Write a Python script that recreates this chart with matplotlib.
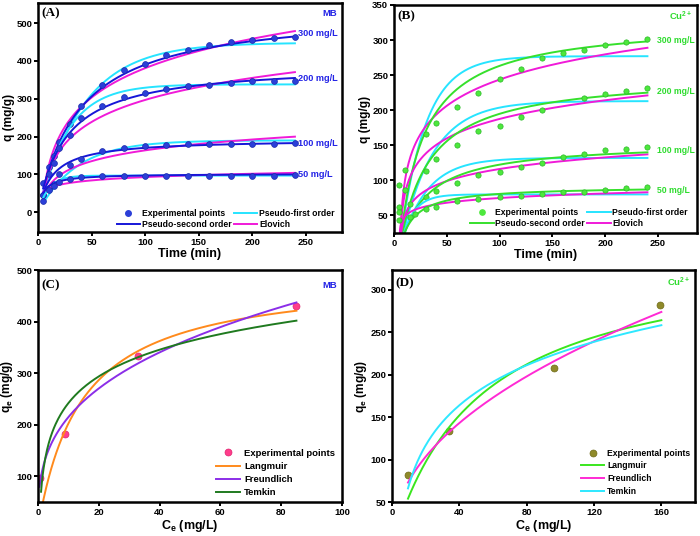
import numpy as np
import matplotlib

matplotlib.use("Agg")

import matplotlib.pyplot as plt  # noqa: E402

plt.rcParams["font.family"] = ["Liberation Sans", "DejaVu Sans"]
plt.rcParams["font.weight"] = "bold"
plt.rcParams["axes.labelweight"] = "bold"
plt.rcParams["mathtext.fontset"] = "custom"
plt.rcParams["mathtext.rm"] = "Liberation Sans:bold"
plt.rcParams["mathtext.bf"] = "Liberation Sans:bold"
plt.rcParams["mathtext.default"] = "bf"

# ---- (A) MB kinetics -------------------------------------------------
conc_labels = ["300 mg/L", "200 mg/L", "100 mg/L", "50 mg/L"]
mb_t = [5, 10, 15, 20, 30, 40, 60, 80, 100, 120, 140, 160, 180, 200, 220, 240]
mb_q = [
    [77, 120, 150, 185, 233, 282, 337, 375, 393, 415, 429, 442, 451, 455, 460, 464],
    [45, 100, 130, 170, 203, 250, 281, 305, 316, 326, 334, 337, 342, 346, 347, 348],
    [45, 65, 75, 100, 125, 140, 162, 170, 175, 178, 180, 180, 180, 181, 181, 182],
    [30, 60, 70, 80, 88, 92, 95, 96, 96, 96, 96, 97, 97, 97, 97, 98],
]
# fitted parameters (one entry per concentration)
mb_pfo_qe = [448, 338, 190, 97]
mb_pfo_k1 = [0.0237, 0.0365, 0.028, 0.104]
mb_pso_qe = [538, 393, 193, 102]
mb_pso_k2 = [4.9e-5, 9.87e-5, 3.89e-4, 2.0e-3]
mb_elo_a = [-135, -90, -26.5, 34.6]
mb_elo_b = [112, 84, 41.3, 12.7]
mb_label_q = [473, 353, 183, 101]

# ---- (B) Cu kinetics -------------------------------------------------
cu_t = [
    [5, 10, 30, 40, 60, 80, 100, 120, 140, 160, 180, 200, 220, 240],
    [5, 10, 30, 40, 60, 80, 100, 120, 140, 180, 200, 220, 240],
    [5, 15, 30, 40, 60, 80, 100, 120, 140, 160, 180, 200, 220, 240],
    [5, 15, 20, 30, 40, 60, 80, 100, 120, 140, 160, 180, 200, 220, 240],
]
cu_q = [
    [93, 115, 166, 182, 205, 225, 244, 259, 274, 281, 286, 293, 297, 301],
    [62, 86, 114, 130, 151, 170, 178, 190, 201, 217, 223, 228, 232],
    [55, 66, 77, 85, 96, 107, 112, 119, 125, 134, 138, 143, 145, 148],
    [44, 48, 52, 59, 62, 70, 73, 76, 78, 80, 83, 84, 86, 89, 91],
]
cu_t0 = 5.0
cu_pfo_qe = [277, 213, 132, 80]
cu_pfo_k1 = [0.0419, 0.033, 0.04, 0.085]
cu_pso_qe = [327.4, 251.4, 155, 91.8]
cu_pso_k2 = [1.32e-4, 1.444e-4, 2.555e-4, 8.39e-4]
cu_elo_a = [16, 19.1, 11.5, 33.9]
cu_elo_b = [50, 37, 23, 9]
cu_label_q = [299, 226, 142, 86]

# ---- (C) MB isotherm -------------------------------------------------
mb_ce = [0.5, 9, 33, 85]
mb_qe = [97, 181, 334, 430]
mb_lang = (491.9, 0.0699)      # qm, KL
mb_freu = (100.0, 0.332)       # KF, 1/n
mb_temk = (74.7, 2.55)         # B, AT
mb_ce_start = [1.0, 0.5, 1.0]

# ---- (D) Cu isotherm -------------------------------------------------
cu_ce = [9.4, 33.7, 96, 159]
cu_qe = [82, 133, 208, 282]
cu_lang = (349.9, 0.0192)
cu_freu = (25.4, 0.4684)
cu_temk = (68.0, 0.2781)

BLUE, CYAN, MAGENTA, GREEN = "#1616d8", "#26e4ff", "#f01ad8", "#36e02c"


def pfo(t, qe, k1):
    return qe * (1 - np.exp(-k1 * t))


def pso(t, qe, k2):
    return qe ** 2 * k2 * t / (1 + qe * k2 * t)


def elovich(t, a, b):
    return a + b * np.log(t)


def style_axes(ax, xlim, ylim, xticks, yticks):
    ax.set_xlim(*xlim)
    ax.set_ylim(*ylim)
    ax.set_xticks(xticks)
    ax.set_yticks(yticks)
    for sp in ax.spines.values():
        sp.set_linewidth(1.8)
    ax.tick_params(direction="out", length=3, width=1.4, labelsize=6.8, pad=1.2)
    ax.yaxis.set_label_coords(-0.076, 0.5)


def tag(ax, letter, species, color, y=0.955):
    ax.text(0.012, y, letter, transform=ax.transAxes, family="Liberation Serif",
            fontsize=9.5, fontweight="bold", va="center", ha="left")
    ax.text(0.985, y, species, transform=ax.transAxes, fontsize=6.8,
            color=color, va="center", ha="right")


fig = plt.figure(figsize=(7.0, 5.36), dpi=100)
ax_a = fig.add_axes([0.0543, 0.5672, 0.4343, 0.4272])
ax_b = fig.add_axes([0.5629, 0.5653, 0.4329, 0.4254])
ax_c = fig.add_axes([0.0543, 0.0634, 0.4343, 0.4328])
ax_d = fig.add_axes([0.5600, 0.0634, 0.4329, 0.4328])

# (A)
ta = np.linspace(5, 240, 300)
for i in range(4):
    ax_a.plot(ta, pfo(ta, mb_pfo_qe[i], mb_pfo_k1[i]), color=CYAN, lw=1.4)
    ax_a.plot(ta, elovich(ta, mb_elo_a[i], mb_elo_b[i]), color=MAGENTA, lw=1.4)
    ax_a.plot(ta, pso(ta, mb_pso_qe[i], mb_pso_k2[i]), color=BLUE, lw=1.4)
    ax_a.plot(mb_t, mb_q[i], "o", color="#2b3fd8", ms=4.2, mec="#1a2aa8", mew=0.5)
    ax_a.text(243, mb_label_q[i], conc_labels[i], color="#2424e6", fontsize=6.6,
              va="center", ha="left")
style_axes(ax_a, (0, 284), (-52, 553), range(0, 251, 50), range(0, 501, 100))
ax_a.set_xlabel("Time (min)", fontsize=9, labelpad=1)
ax_a.set_ylabel("q (mg/g)", fontsize=8.6)
tag(ax_a, "(A)", "MB", "#2424e6")
h_exp, = ax_a.plot([], [], "o", color="#2b3fd8", ms=4)
h_pso, = ax_a.plot([], [], color=BLUE, lw=1.4)
h_pfo, = ax_a.plot([], [], color=CYAN, lw=1.4)
h_elo, = ax_a.plot([], [], color=MAGENTA, lw=1.4)
ax_a.legend([h_exp, h_pso, h_pfo, h_elo],
            ["Experimental points", "Pseudo-second order", "Pseudo-first order", "Elovich"],
            ncol=2, loc="lower right", bbox_to_anchor=(0.975, 0.012), frameon=False,
            fontsize=6.2, handlelength=2.7, handletextpad=0.2, columnspacing=0.3,
            labelspacing=0.3, borderaxespad=0, borderpad=0)

# (B)
tb = np.linspace(cu_t0 + 0.02, 240, 400)
sb = tb - cu_t0
for i in range(4):
    ax_b.plot(tb, pfo(sb, cu_pfo_qe[i], cu_pfo_k1[i]), color=CYAN, lw=1.4)
    ax_b.plot(tb, elovich(sb, cu_elo_a[i], cu_elo_b[i]), color=MAGENTA, lw=1.4)
    ax_b.plot(tb, pso(sb, cu_pso_qe[i], cu_pso_k2[i]), color=GREEN, lw=1.4)
    ax_b.plot(cu_t[i], cu_q[i], "o", color="#4de83c", ms=3.8, mec="#2cb82a", mew=0.5)
    ax_b.text(249, cu_label_q[i], conc_labels[i], color="#2fdc2f", fontsize=6.2,
              va="center", ha="left")
style_axes(ax_b, (0, 287), (25, 350), range(0, 251, 50), range(50, 351, 50))
ax_b.set_xlabel("Time (min)", fontsize=9, labelpad=1)
ax_b.set_ylabel("q (mg/g)", fontsize=8.6)
tag(ax_b, "(B)", "Cu$^{2+}$", "#2fdc2f", y=0.95)
h_exp, = ax_b.plot([], [], "o", color="#4de83c", ms=3.8)
h_pso, = ax_b.plot([], [], color=GREEN, lw=1.4)
h_pfo, = ax_b.plot([], [], color=CYAN, lw=1.4)
h_elo, = ax_b.plot([], [], color=MAGENTA, lw=1.4)
ax_b.legend([h_exp, h_pso, h_pfo, h_elo],
            ["Experimental points", "Pseudo-second order", "Pseudo-first order", "Elovich"],
            ncol=2, loc="lower right", bbox_to_anchor=(0.97, 0.02), frameon=False,
            fontsize=6.2, handlelength=2.7, handletextpad=0.2, columnspacing=0.3,
            labelspacing=0.3, borderaxespad=0, borderpad=0)

# (C)
ORANGE, PURPLE, DKGREEN = "#ff8a1c", "#8b2ee8", "#1f7a1f"
c_l = np.linspace(mb_ce_start[0], 85, 300)
c_f = np.linspace(mb_ce_start[1], 85, 300)
c_t = np.linspace(mb_ce_start[2], 85, 300)
ax_c.plot(mb_ce, mb_qe, "o", color="#ff3d8b", ms=5, mec="#e0206e", mew=0.5, zorder=1,
          label="Experimental points")
ax_c.plot(c_l, mb_lang[0] * mb_lang[1] * c_l / (1 + mb_lang[1] * c_l), color=ORANGE,
          lw=1.4, label="Langmuir")
ax_c.plot(c_f, mb_freu[0] * c_f ** mb_freu[1], color=PURPLE, lw=1.4, label="Freundlich")
ax_c.plot(c_t, mb_temk[0] * np.log(mb_temk[1] * c_t), color=DKGREEN, lw=1.4, label="Temkin")
style_axes(ax_c, (0, 100), (50, 500), range(0, 101, 20), range(100, 501, 100))
ax_c.set_xlabel("C$_e$ (mg/L)", fontsize=9, labelpad=1)
ax_c.set_ylabel("q$_e$ (mg/g)", fontsize=8.6)
tag(ax_c, "(C)", "MB", "#2424e6", y=0.935)
ax_c.legend(loc="lower left", bbox_to_anchor=(0.585, 0.02), frameon=False, fontsize=6.8,
            handlelength=2.6, handletextpad=0.4, labelspacing=0.45, borderaxespad=0,
            borderpad=0)

# (D)
c_d = np.linspace(9.5, 160, 300)
ax_d.plot(cu_ce, cu_qe, "o", color="#8f8a2a", ms=5, mec="#6f6a18", mew=0.5,
          label="Experimental points")
ax_d.plot(c_d, cu_lang[0] * cu_lang[1] * c_d / (1 + cu_lang[1] * c_d), color="#3ae61e",
          lw=1.4, label="Langmuir")
ax_d.plot(c_d, cu_freu[0] * c_d ** cu_freu[1], color="#ff2ad4", lw=1.4, label="Freundlich")
ax_d.plot(c_d, cu_temk[0] * np.log(cu_temk[1] * c_d), color="#2ee8ff", lw=1.4,
          label="Temkin")
style_axes(ax_d, (0, 180), (50, 323), range(0, 161, 40), range(50, 301, 50))
ax_d.set_xlabel("C$_e$ (mg/L)", fontsize=9, labelpad=1)
ax_d.set_ylabel("q$_e$ (mg/g)", fontsize=8.6)
tag(ax_d, "(D)", "Cu$^{2+}$", "#2fdc2f", y=0.945)
ax_d.legend(loc="lower left", bbox_to_anchor=(0.625, 0.025), frameon=False, fontsize=6.2,
            handlelength=2.6, handletextpad=0.4, labelspacing=0.45, borderaxespad=0,
            borderpad=0)

fig.savefig("out.png", dpi=100)
